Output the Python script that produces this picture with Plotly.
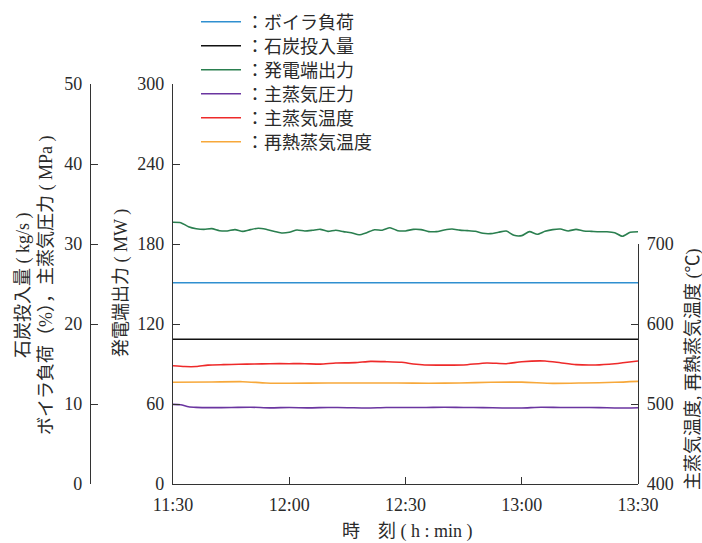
import datetime as dt
import plotly.graph_objects as go

# ---------------- data ----------------
base = dt.datetime(2024, 1, 1, 11, 30)

green_min = [0, 2, 4, 6, 8, 10, 12, 14, 16, 18, 20, 22, 24, 26, 28, 30, 32, 34, 36, 38,
             40, 42, 44, 46, 48, 50, 52, 54, 56, 58, 60, 62, 64, 66, 68, 70, 72, 74, 76, 78,
             80, 82, 84, 86, 88, 90, 92, 94, 96, 98, 100, 102, 104, 106, 108, 110, 112, 114,
             116, 118, 120]
green_mw = [196.3, 196.0, 193.0, 191.5, 191.0, 191.5, 190.0, 189.8, 190.8, 189.5,
            190.8, 191.8, 191.0, 189.5, 188.3, 188.8, 190.5, 189.8, 190.3, 191.0,
            189.5, 190.3, 189.3, 188.5, 186.9, 188.5, 190.7, 190.3, 192.2, 190.0,
            189.8, 191.0, 190.8, 189.3, 189.3, 190.5, 191.2, 190.4, 190.0, 189.5,
            188.0, 187.8, 188.8, 189.7, 186.5, 186.3, 189.3, 187.3, 189.5, 190.8,
            191.2, 189.8, 191.0, 189.8, 189.5, 189.2, 189.2, 188.5, 185.8, 188.8,
            189.2]

red_min = [0, 3, 6, 9, 13, 17, 21, 25, 30, 34, 38, 42, 47, 51, 55, 59, 62, 65, 70, 75,
           81, 86, 90, 96, 100, 104, 109, 114, 120]
red_temp = [547.9, 546.8, 546.8, 548.6, 549.2, 549.6, 550.0, 550.4, 550.4, 550.4,
            549.8, 551.2, 551.7, 553.3, 552.9, 552.1, 550.0, 548.8, 548.6, 548.8,
            551.3, 550.4, 552.9, 553.8, 551.5, 549.2, 548.8, 550.4, 553.8]

orange_min = [0, 10, 18, 24, 30, 40, 50, 58, 66, 74, 82, 90, 98, 106, 114, 120]
orange_temp = [527.1, 527.5, 527.9, 526.3, 525.9, 526.3, 526.3, 526.3, 526.0, 526.3,
               527.1, 527.3, 525.8, 526.3, 527.1, 528.3]

purple_min = [0, 2, 4, 6, 10, 15, 20, 25, 30, 35, 40, 45, 50, 55, 60, 65, 70, 75, 80,
              85, 90, 95, 100, 105, 110, 115, 120]
purple_mpa = [9.95, 9.9, 9.65, 9.58, 9.55, 9.56, 9.6, 9.52, 9.56, 9.52, 9.56, 9.54, 9.5,
              9.56, 9.56, 9.56, 9.6, 9.56, 9.55, 9.5, 9.5, 9.6, 9.56, 9.56, 9.55, 9.5, 9.54]

flat_min = [0, 120]
boiler_load = [25.15, 25.15]
coal_feed = [18.1, 18.1]

names = ["：ボイラ負荷", "：石炭投入量", "：発電端出力", "：主蒸気圧力", "：主蒸気温度", "：再熱蒸気温度"]
colors = ["#2f8fd0", "#111111", "#2a7f4f", "#6a35a0", "#ee2a2a", "#f7a83a"]

x_ticks = ["11:30", "12:00", "12:30", "13:00", "13:30"]


def t(mins):
    return [base + dt.timedelta(minutes=m) for m in mins]


# ---------------- geometry ----------------
W, H = 702, 543
ml, mr, mt, mb = 0, 0, 84, 59
PW = W - ml - mr
PH = H - mt - mb
x0px, x1px = 173, 638
outer_px = 90


def px(xp):
    return (xp - ml) / PW


def py(yp):
    return (H - mb - yp) / PH


FONT = "Liberation Serif, 'Noto Sans CJK JP', serif"
TXT = "#2a2a2a"

fig = go.Figure()
series = [
    (flat_min, boiler_load, "y2"),
    (flat_min, coal_feed, "y2"),
    (green_min, green_mw, "y"),
    (purple_min, purple_mpa, "y2"),
    (red_min, red_temp, "y3"),
    (orange_min, orange_temp, "y3"),
]
for i, (xm, yv, ax) in enumerate(series):
    fig.add_trace(go.Scatter(
        x=t(xm), y=yv, mode="lines", name=names[i],
        line=dict(color=colors[i], width=1.6, shape="spline", smoothing=0.6),
        yaxis=ax, xaxis="x",
        legend="legend" if i == 0 else f"legend{i + 1}",
        showlegend=True,
    ))

axis_common = dict(
    showgrid=False, zeroline=False, showline=True, linecolor="#333333", linewidth=1.2,
    ticks="inside", ticklen=7, tickwidth=1.2, tickcolor="#333333",
    tickfont=dict(family=FONT, size=18, color=TXT),
)

tickvals = [base.replace(hour=int(s.split(":")[0]), minute=int(s.split(":")[1])) for s in x_ticks]
fig.update_layout(
    width=W, height=H,
    margin=dict(l=ml, r=mr, t=mt, b=mb, autoexpand=False),
    paper_bgcolor="white", plot_bgcolor="rgba(0,0,0,0)",
    font=dict(family=FONT, size=18, color=TXT),
    xaxis=dict(domain=[px(x0px), px(x1px)], anchor="y", type="date",
               range=[tickvals[0], tickvals[-1]], tickvals=tickvals, ticktext=x_ticks,
               ticklabelstandoff=4, **axis_common),
    yaxis=dict(domain=[0, 1], anchor="x", range=[0, 300], tickvals=[0, 60, 120, 180, 240, 300],
               ticklabelstandoff=4, **axis_common),
    yaxis2=dict(overlaying="y", anchor="free", position=px(outer_px), side="left",
                range=[0, 50], tickvals=[0, 10, 20, 30, 40, 50], ticklabelstandoff=4,
                **axis_common),
    yaxis3=dict(domain=[0, 0.6], anchor="x", side="right", range=[400, 700],
                tickvals=[400, 500, 600, 700], ticklabelstandoff=4, **axis_common),
    showlegend=True,
)

# legends: one per row
row_y = [22, 46, 70, 94, 118, 142]
for i in range(6):
    key = "legend" if i == 0 else f"legend{i + 1}"
    fig.update_layout({key: dict(
        x=px(196), xanchor="left", y=py(row_y[i]), yanchor="middle",
        bgcolor="rgba(0,0,0,0)", borderwidth=0, itemwidth=40,
        font=dict(family=FONT, size=18, color=TXT),
    )})

annots = [
    dict(text="石炭投入量 ( kg/s )<br>ボイラ負荷（%），主蒸気圧力 ( MPa )", x=px(35), y=py(285), textangle=-90),
    dict(text="発電端出力 ( MW )", x=px(121), y=py(283), textangle=-90),
    dict(text="主蒸気温度, 再熱蒸気温度 (℃)", x=px(693), y=py(369), textangle=-90),
    dict(text="時　刻 ( h : min )", x=px(407), y=py(531), textangle=0),
]
for a in annots:
    fig.add_annotation(xref="paper", yref="paper", xanchor="center", yanchor="middle",
                       showarrow=False, font=dict(family=FONT, size=18, color=TXT), **a)

fig.write_html("out.html")
